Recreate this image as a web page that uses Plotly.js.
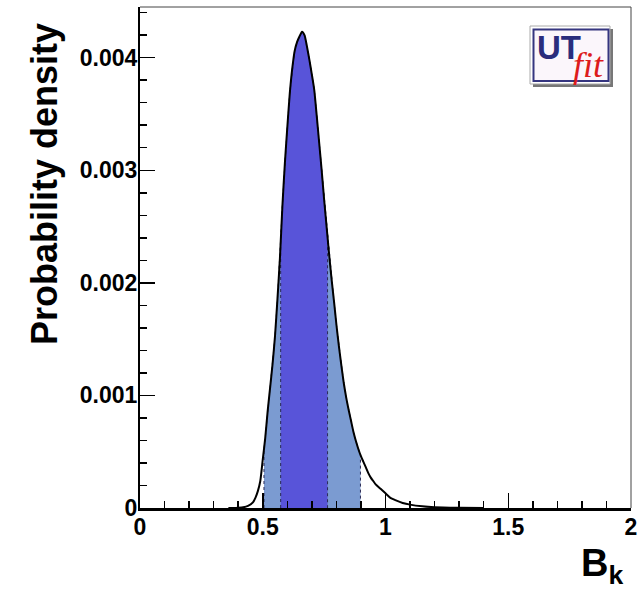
<!DOCTYPE html>
<html>
<head>
<meta charset="utf-8">
<script src="https://cdn.plot.ly/plotly-3.0.1.min.js"></script>
<style>html,body{margin:0;padding:0;background:#fff;}#chart{width:643px;height:590px;}</style>
</head>
<body>
<div id="chart"></div>
<script>
// ---- data ----
const bkValues = [0.36,0.38,0.40,0.42,0.44,0.46,0.47,0.48,0.49,0.50,0.51,0.52,0.53,0.54,0.55,0.56,0.57,0.58,0.59,0.60,0.61,0.62,0.63,0.64,0.65,0.66,0.67,0.68,0.69,0.70,0.71,0.72,0.73,0.74,0.75,0.76,0.77,0.78,0.79,0.80,0.81,0.82,0.83,0.84,0.85,0.86,0.87,0.88,0.89,0.90,0.91,0.92,0.93,0.94,0.95,0.96,0.98,1.00,1.02,1.04,1.07,1.10,1.15,1.20,1.30,1.40];
const density = [0,0,0.000002,0.000006,0.000018,0.00005,0.00009,0.00015,0.00024,0.00043,0.00062,0.00086,0.00107,0.00128,0.00153,0.00186,0.00222,0.00268,0.00306,0.00338,0.00368,0.00390,0.00406,0.00414,0.00419,0.00423,0.00420,0.00410,0.00398,0.00385,0.00371,0.00348,0.00324,0.00300,0.00274,0.00250,0.00226,0.00204,0.00184,0.00163,0.00144,0.00127,0.00111,0.00098,0.00087,0.00077,0.00067,0.00059,0.00052,0.00046,0.00041,0.00036,0.00031,0.00027,0.00024,0.00021,0.00017,0.00013,0.00009,0.00007,0.000045,0.00003,0.000015,0.000007,0.000002,0];
const band68 = [0.573, 0.764];
const band95 = [0.505, 0.898];
const xTickVals = [0, 0.5, 1, 1.5, 2];
const xTickText = ["0", "0.5", "1", "1.5", "2"];
const yTickVals = [0, 0.001, 0.002, 0.003, 0.004];
const yTickText = ["0", "0.001", "0.002", "0.003", "0.004"];

// ---- helpers ----
function interp(x) {
  for (let i = 0; i < bkValues.length - 1; i++) {
    if (x >= bkValues[i] && x <= bkValues[i+1]) {
      const t = (x - bkValues[i]) / (bkValues[i+1] - bkValues[i]);
      return density[i] + t * (density[i+1] - density[i]);
    }
  }
  return 0;
}
function bandPoly(lo, hi) {
  const xs = [lo, lo], ys = [0, interp(lo)];
  for (let i = 0; i < bkValues.length; i++) {
    if (bkValues[i] > lo && bkValues[i] < hi) { xs.push(bkValues[i]); ys.push(density[i]); }
  }
  xs.push(hi, hi); ys.push(interp(hi), 0);
  return {xs, ys};
}
const p95 = bandPoly(band95[0], band95[1]);
const p68 = bandPoly(band68[0], band68[1]);

// plot area in pixels: x 140..631, y 7..508
const L = 140, R = 631, T = 7, B = 508;
const px = v => (v - L) / (R - L);
const py = v => (B - v) / (B - T);

const traces = [
  {x: p95.xs, y: p95.ys, type: 'scatter', mode: 'lines', fill: 'toself',
   fillcolor: '#7b9bd1', line: {color: '#2a2a55', width: 1, dash: 'dot'}, hoverinfo: 'skip'},
  {x: p68.xs, y: p68.ys, type: 'scatter', mode: 'lines', fill: 'toself',
   fillcolor: '#5854d9', line: {color: '#2a2a55', width: 1, dash: 'dot'}, hoverinfo: 'skip'},
  {x: bkValues, y: density, type: 'scatter', mode: 'lines',
   line: {color: '#000', width: 2, shape: 'spline', smoothing: 0.6}}
];

const tickFont = {family: 'Liberation Sans, Arial, sans-serif', size: 23, color: '#000', weight: 'bold'};

const layout = {
  width: 643, height: 590,
  margin: {l: L, r: 643 - R, t: T, b: 590 - B, pad: 0},
  paper_bgcolor: '#fff', plot_bgcolor: '#fff',
  showlegend: false,
  xaxis: {
    range: [0, 2], showgrid: false, zeroline: false,
    showline: true, linecolor: '#000', linewidth: 2.5,
    ticks: 'inside', ticklen: 15, tickwidth: 1.5, tickcolor: '#000',
    tickvals: xTickVals, ticktext: xTickText, tickfont: tickFont,
    ticklabelstandoff: -3,
    minor: {dtick: 0.1, tick0: 0, ticks: 'inside', ticklen: 7, tickwidth: 1.5, tickcolor: '#000', showgrid: false}
  },
  yaxis: {
    range: [0, 0.00445], showgrid: false, zeroline: false,
    showline: true, linecolor: '#000', linewidth: 2,
    ticks: 'inside', ticklen: 15, tickwidth: 1.5, tickcolor: '#000',
    tickvals: yTickVals, ticktext: yTickText, tickfont: tickFont,
    ticklabelstandoff: -4,
    minor: {dtick: 0.0002, tick0: 0, ticks: 'inside', ticklen: 7, tickwidth: 1.5, tickcolor: '#000', showgrid: false}
  },
  shapes: [
    // frame top & right
    {type: 'line', xref: 'paper', yref: 'paper', x0: 0, x1: 1, y0: 1, y1: 1, line: {color: '#444', width: 1}},
    {type: 'line', xref: 'paper', yref: 'paper', x0: 1, x1: 1, y0: 0, y1: 1, line: {color: '#444', width: 1}},
    // UTfit logo
    {type: 'rect', xref: 'paper', yref: 'paper', x0: px(533), x1: px(613), y0: py(87), y1: py(29), fillcolor: '#777', line: {width: 0}},
    {type: 'rect', xref: 'paper', yref: 'paper', x0: px(530), x1: px(610), y0: py(84), y1: py(26), fillcolor: '#fff', line: {color: '#aaa', width: 1}},
    {type: 'rect', xref: 'paper', yref: 'paper', x0: px(533.5), x1: px(608.5), y0: py(81), y1: py(29.5), fillcolor: '#fbf6fb', line: {color: '#35357f', width: 2}}
  ],
  annotations: [
    {text: '<b>Probability density</b>', xref: 'paper', yref: 'paper', x: px(44), y: py(184),
     xanchor: 'center', yanchor: 'middle', textangle: -90, showarrow: false,
     font: {family: 'Liberation Sans, Arial, sans-serif', size: 36, color: '#000'}},
    {text: '<b>B<sub>k</sub></b>', xref: 'paper', yref: 'paper', x: px(625), y: py(592),
     xanchor: 'right', yanchor: 'bottom', showarrow: false,
     font: {family: 'Liberation Sans, Arial, sans-serif', size: 38, color: '#000'}},
    {text: '<b>UT</b>', xref: 'paper', yref: 'paper', x: px(535), y: py(47),
     xanchor: 'left', yanchor: 'middle', showarrow: false,
     font: {family: 'Liberation Sans Narrow, Liberation Sans, Arial, sans-serif', size: 33, color: '#2a2d7c'}},
    {text: '<i>fit</i>', xref: 'paper', yref: 'paper', x: px(588), y: py(65),
     xanchor: 'center', yanchor: 'middle', showarrow: false,
     font: {family: 'Liberation Serif, Times New Roman, serif', size: 36, color: '#dd1c1c'}}
  ]
};

Plotly.newPlot('chart', traces, layout, {displayModeBar: false, staticPlot: true});
</script>
</body>
</html>
